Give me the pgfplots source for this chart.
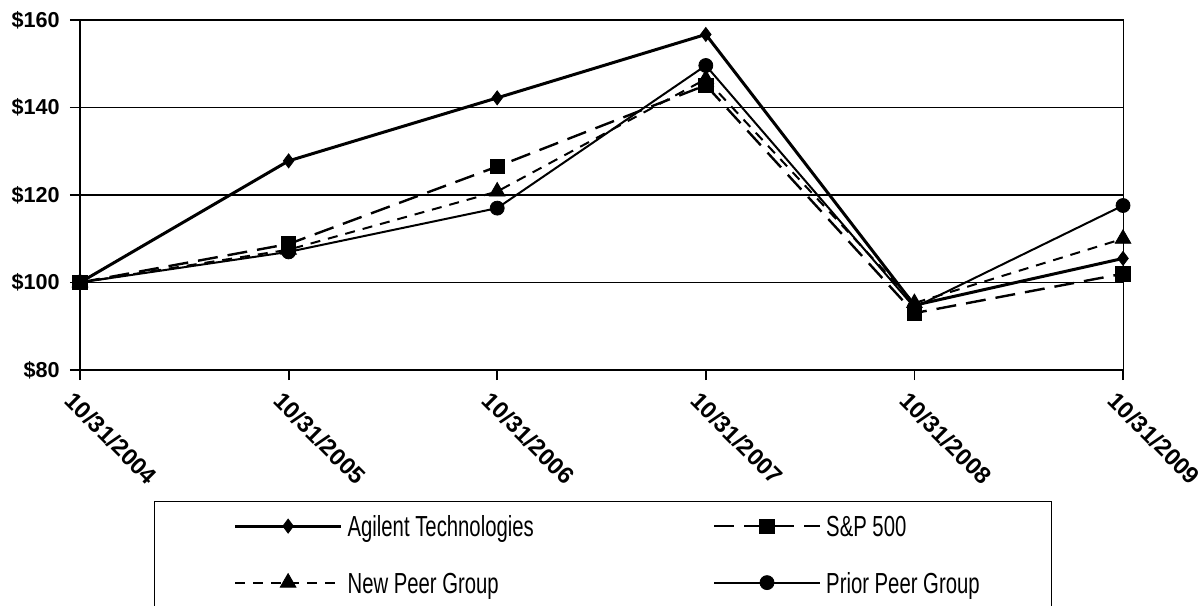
\documentclass[border=0pt]{standalone}
\usepackage{fontspec}
\setmainfont{Liberation Sans}
\newfontfamily\legfont[FakeStretch=0.7]{Liberation Sans}
\usepackage{pgfplots}
\pgfplotsset{compat=1.18}
\begin{document}
\begin{tikzpicture}
\begin{axis}[
  at={(0,0)}, anchor=south west,
  scale only axis, width=521.5pt, height=175pt,
  xmin=0, xmax=5, ymin=80, ymax=160,
  xtick={0,1,2,3,4,5},
  xticklabels={10/31/2004,10/31/2005,10/31/2006,10/31/2007,10/31/2008,10/31/2009},
  ytick={80,100,120,140,160},
  yticklabels={\$80,\$100,\$120,\$140,\$160},
  tick pos=left, tick align=outside, major tick length=5pt,
  tick style={line width=0.9pt, black},
  ymajorgrids, grid style={line width=0.6pt, black},
  axis line style={line width=0.5pt},
  yticklabel style={font=\bfseries\fontsize{10.8}{12}\selectfont, inner xsep=0pt, xshift=-5pt},
  xticklabel style={font=\bfseries\fontsize{11.8}{13}\selectfont, rotate=-45, anchor=north west, inner sep=0pt, xshift=2pt, yshift=-5pt},
  legend columns=2,
  legend cell align=left,
  legend style={at={(0.07095,-0.3743)}, anchor=north west, draw=black, line width=0.6pt,
    inner xsep=36pt, inner ysep=6.25pt, row sep=16.5pt,
    nodes={inner sep=0pt, text height=10.5pt, text depth=0pt, font=\legfont\fontsize{14.5}{16}\selectfont},
    /tikz/column 1/.style={column sep=2.5pt},
    /tikz/column 2/.style={column sep=86pt},
    /tikz/column 3/.style={column sep=2.5pt}},
  legend image code/.code={
    \path (0pt,-5.25pt) (0pt,5.25pt);
    \draw[mark repeat=2,mark phase=2,#1] plot coordinates {(3.5pt,0pt) (30pt,0pt) (56.5pt,0pt)};
  },
]
\addplot[black, line width=1.5pt, mark=diamond*, mark size=3.5pt, mark options={solid, line width=0.4pt}]
  coordinates {(0,100) (1,127.8) (2,142.2) (3,156.7) (4,94.8) (5,105.5)};
\addlegendentry{Agilent Technologies}
\addplot[black, line width=1.2pt, dash pattern=on 10pt off 5pt, mark=square*, mark size=3.6pt, mark options={solid, line width=0.4pt}]
  coordinates {(0,100) (1,108.8) (2,126.5) (3,145.1) (4,93.0) (5,102.0)};
\addlegendentry{S\&P 500}
\addplot[black, line width=1pt, dash pattern=on 5pt off 4pt, mark=triangle*, mark size=4.5pt, mark options={solid, line width=0.4pt}]
  coordinates {(0,100) (1,107.5) (2,120.8) (3,146.5) (4,95.3) (5,110.0)};
\addlegendentry{New Peer Group}
\addplot[black, line width=1pt, mark=*, mark size=3.5pt, mark options={solid, line width=0.4pt}]
  coordinates {(0,100) (1,107.0) (2,117.0) (3,149.6) (4,94.3) (5,117.6)};
\addlegendentry{Prior Peer Group}
\draw[line width=1.2pt] (rel axis cs:0,1) -- (rel axis cs:0,0) -- (rel axis cs:1,0);
\end{axis}
\pgfresetboundingbox
\path[use as bounding box] (-40pt,-117.5pt) rectangle (561pt,185pt);
\end{tikzpicture}
\end{document}
